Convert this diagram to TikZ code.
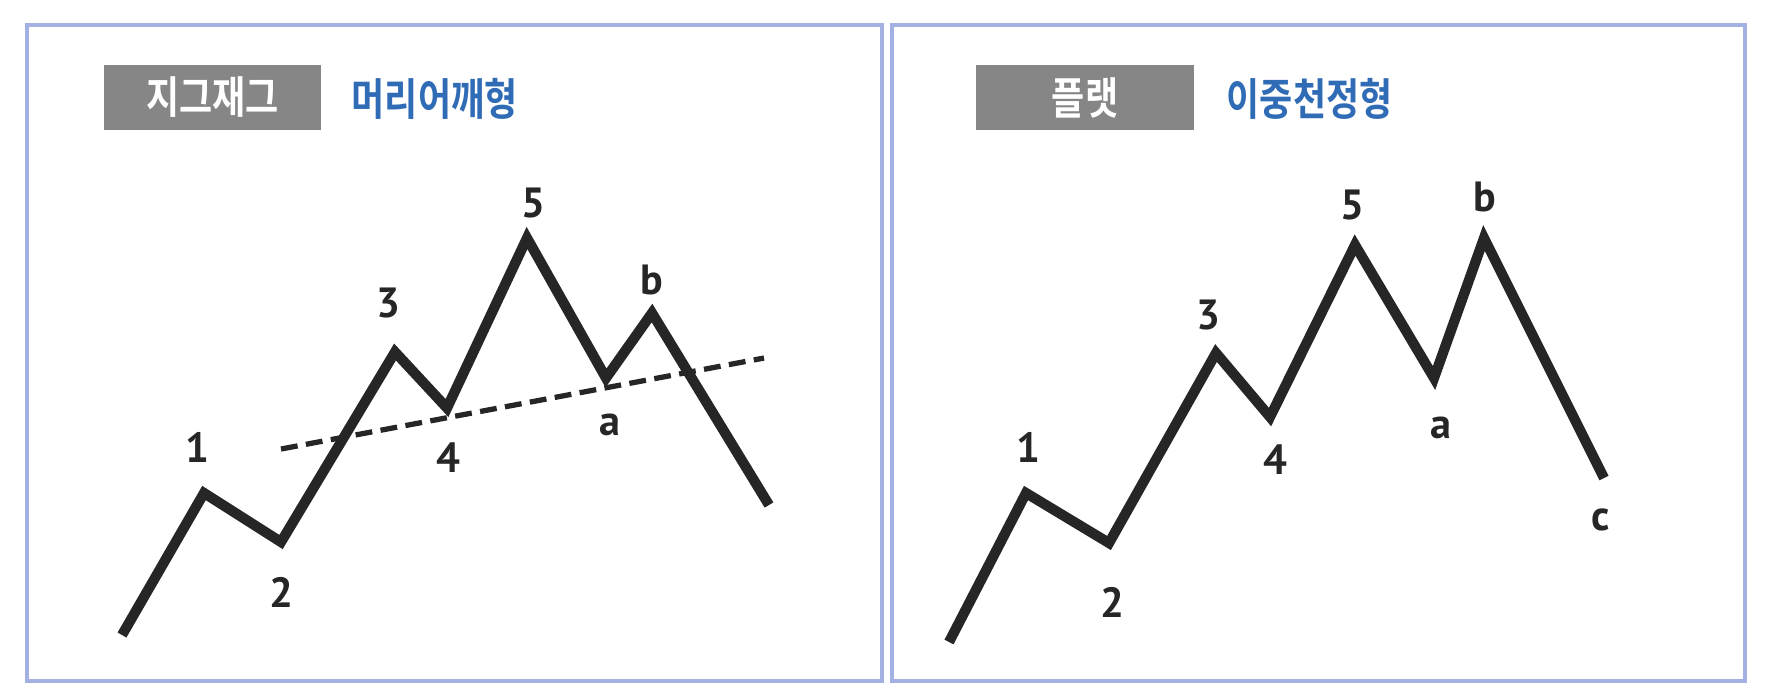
\documentclass[tikz,border=0pt]{standalone}
\usepackage{fontspec}
\setmainfont{PT Sans}
\newfontfamily\krfont{Noto Sans CJK KR Bold}[FakeStretch=0.82]
\usepackage{tikz}
\usetikzlibrary{positioning}
\definecolor{pframe}{HTML}{A2B1E2}
\definecolor{ptag}{HTML}{868686}
\definecolor{ptitle}{HTML}{2F6CB5}
\definecolor{pline}{HTML}{262626}

\begin{document}
\begin{tikzpicture}[x=0.01cm,y=-0.01cm,
  panel/.style={draw=pframe,line width=0.9pt},
  tag/.style={fill=ptag,text=white,minimum width=2.17cm,minimum height=0.65cm,inner sep=0pt,
              font=\krfont\fontsize{12.5}{14}\selectfont},
  title/.style={text=ptitle,anchor=west,inner sep=0pt,font=\krfont\fontsize{12.5}{14}\selectfont},
  lbl/.style={inner sep=0pt,text=pline,font=\bfseries\fontsize{12}{14}\selectfont},
  wave/.style={draw=pline,line width=2.9pt,line join=miter},
  trend/.style={draw=pline,line width=1.5pt,dash pattern=on 4.8pt off 2.4pt}]

  \useasboundingbox (0,0) rectangle (1777,699);

  % frames
  \draw[panel] (27,25) rectangle (882,681);
  \draw[panel] (892,25) rectangle (1745,681);

  % headings
  \node[tag] (zt) at (212.5,97.5) {지그재그};
  \node[title] (zh) at (351,99) {머리어깨형};
  \node[tag] (ft) at (1085,97.5) {플랫};
  \node[title] (fh) at (1226,99) {이중천정형};

  % zigzag
  \coordinate (z0) at (122,635);
  \coordinate (z1) at (204,493);
  \coordinate (z2) at (281,542);
  \coordinate (z3) at (395,352);
  \coordinate (z4) at (447,408);
  \coordinate (z5) at (527,238);
  \coordinate (za) at (606,378);
  \coordinate (zb) at (652,313);
  \coordinate (ze) at (769,505);
  \coordinate (t1) at (281,449);
  \coordinate (t2) at (764,358);
  \draw[trend] (t1) -- (t2);
  \draw[wave] (z0) -- (z1) -- (z2) -- (z3) -- (z4) -- (z5) -- (za) -- (zb) -- (ze);

  \node[lbl] (zl1) at (197,447) {1};
  \node[lbl] (zl2) at (281,592) {2};
  \node[lbl] (zl3) at (388,303) {3};
  \node[lbl] (zl4) at (448,458) {4};
  \node[lbl] (zl5) at (533,203) {5};
  \node[lbl] (zla) at (610,425) {a};
  \node[lbl] (zlb) at (652,280) {b};

  % flat
  \coordinate (f0) at (949,642);
  \coordinate (f1) at (1026,493);
  \coordinate (f2) at (1109,543);
  \coordinate (f3) at (1216,353);
  \coordinate (f4) at (1270,417);
  \coordinate (f5) at (1355,245);
  \coordinate (fa) at (1434,378);
  \coordinate (fb) at (1484,238);
  \coordinate (fe) at (1604,478);
  \draw[wave] (f0) -- (f1) -- (f2) -- (f3) -- (f4) -- (f5) -- (fa) -- (fb) -- (fe);

  \node[lbl] (fl1) at (1028,447) {1};
  \node[lbl] (fl2) at (1112,602) {2};
  \node[lbl] (fl3) at (1208,315) {3};
  \node[lbl] (fl4) at (1275,460) {4};
  \node[lbl] (fl5) at (1352,205) {5};
  \node[lbl] (fla) at (1441,428) {a};
  \node[lbl] (flb) at (1485,197) {b};
  \node[lbl] (flc) at (1601,520) {c};
\end{tikzpicture}
\end{document}
